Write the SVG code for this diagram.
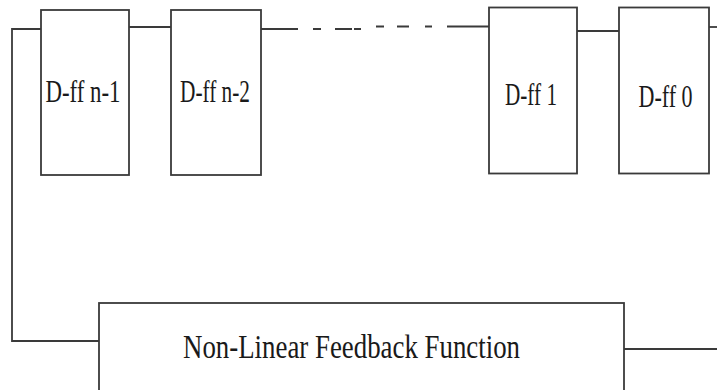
<svg xmlns="http://www.w3.org/2000/svg" width="717" height="390" viewBox="0 0 717 390">
  <style>
    .box { fill: #ffffff; stroke: #3a3a3a; stroke-width: 1.8; }
    .wire { fill: none; stroke: #3a3a3a; stroke-width: 1.8; }
    .lbl { font-family: "Liberation Serif", "Times New Roman", serif; fill: #1a1a1a; }
  </style>
  <rect width="717" height="390" fill="#ffffff"/>

  <g id="connectors">
    <!-- feedback loop on the left -->
    <polyline class="wire" points="41,29 12,29 12,341 99,341"/>
    <!-- chain between flip-flops -->
    <line class="wire" x1="129" y1="27" x2="171" y2="27"/>
    <line class="wire" x1="261" y1="29" x2="298" y2="29"/>
    <path class="wire" d="M313,29 H321 M335,29 H352 M354,29 H361 M376,26.5 H384 M397,26.5 H409 M425,26.5 H432 M447,26.5 H489"/>
    <line class="wire" x1="577" y1="31" x2="619" y2="31"/>
    <line class="wire" x1="709" y1="27" x2="717" y2="27"/>
    <!-- output of the feedback function -->
    <line class="wire" x1="624" y1="349" x2="717" y2="349"/>
  </g>

  <g id="dff-n-1">
    <rect class="box" x="41" y="10" width="88" height="165"/>
    <text class="lbl" x="45.5" y="102" font-size="31" textLength="75" lengthAdjust="spacingAndGlyphs">D-ff n-1</text>
  </g>
  <g id="dff-n-2">
    <rect class="box" x="171" y="10" width="90" height="165"/>
    <text class="lbl" x="180" y="102" font-size="31" textLength="70" lengthAdjust="spacingAndGlyphs">D-ff n-2</text>
  </g>
  <g id="dff-1">
    <rect class="box" x="489" y="7.5" width="88" height="166"/>
    <text class="lbl" x="505" y="105" font-size="31" textLength="52" lengthAdjust="spacingAndGlyphs">D-ff 1</text>
  </g>
  <g id="dff-0">
    <rect class="box" x="619" y="7.5" width="90" height="166"/>
    <text class="lbl" x="638.5" y="107" font-size="31" textLength="54" lengthAdjust="spacingAndGlyphs">D-ff 0</text>
  </g>
  <g id="nlff">
    <rect class="box" x="99" y="303" width="525" height="92"/>
    <text class="lbl" x="183" y="358" font-size="33" textLength="337" lengthAdjust="spacingAndGlyphs">Non-Linear Feedback Function</text>
  </g>
</svg>
